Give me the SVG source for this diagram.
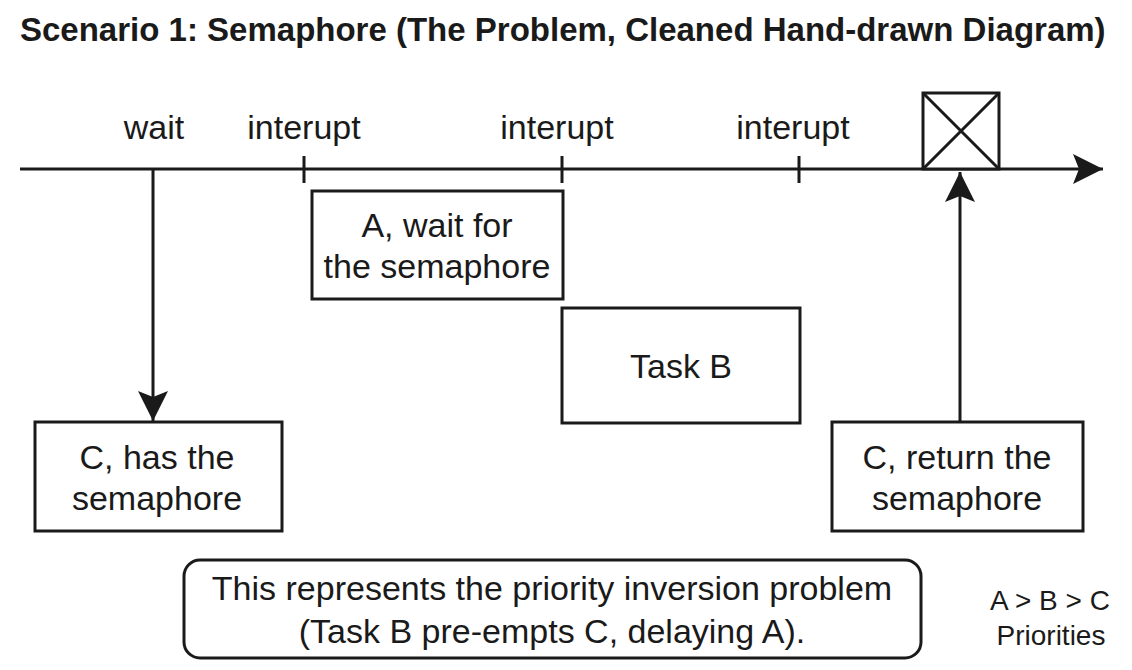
<svg xmlns="http://www.w3.org/2000/svg" width="1132" height="670" viewBox="0 0 1132 670">
<style>
text{font-family:"Liberation Sans",Arial,sans-serif;fill:#1a1a1a;text-anchor:middle}
.t{font-size:34px}
.s{font-size:28px}
.title{font-size:33px;font-weight:bold;text-anchor:start}
.box{fill:#fff;stroke:#1a1a1a;stroke-width:3}
.ln{stroke:#1a1a1a;stroke-width:3;fill:none}
</style>
<defs>
<marker id="ah" markerUnits="userSpaceOnUse" markerWidth="34" markerHeight="34" viewBox="-32 -16 34 32" refX="0" refY="0" orient="auto">
<path d="M0,0 L-30,-15 L-24,0 L-30,15 Z" fill="#1a1a1a"/>
</marker>
</defs>
<rect width="1132" height="670" fill="#fff"/>
<text class="title" x="20" y="41">Scenario 1: Semaphore (The Problem, Cleaned Hand-drawn Diagram)</text>
<g id="timeline">
<line class="ln" x1="20" y1="169" x2="1103" y2="169" marker-end="url(#ah)"/>
<line class="ln" x1="304" y1="156" x2="304" y2="183"/>
<line class="ln" x1="562" y1="156" x2="562" y2="183"/>
<line class="ln" x1="799" y1="156" x2="799" y2="183"/>
<text class="t" x="154" y="139">wait</text>
<text class="t" x="304" y="139">interupt</text>
<text class="t" x="557" y="139">interupt</text>
<text class="t" x="793" y="139">interupt</text>
</g>
<g id="release-mark">
<rect class="box" x="923" y="93" width="76" height="76" fill="none"/>
<line class="ln" x1="923" y1="93" x2="999" y2="169"/>
<line class="ln" x1="999" y1="93" x2="923" y2="169"/>
</g>
<g id="connectors">
<line class="ln" x1="153" y1="169" x2="153" y2="421" marker-end="url(#ah)"/>
<line class="ln" x1="960" y1="422" x2="960" y2="172" marker-end="url(#ah)"/>
</g>
<g id="node-a">
<rect class="box" x="312" y="191" width="251" height="108"/>
<text class="t" x="437" y="237">A, wait for</text>
<text class="t" x="437" y="278">the semaphore</text>
</g>
<g id="node-b">
<rect class="box" x="562" y="308" width="238" height="115"/>
<text class="t" x="681" y="378">Task B</text>
</g>
<g id="node-c-has">
<rect class="box" x="35" y="422" width="247" height="109"/>
<text class="t" x="157" y="469">C, has the</text>
<text class="t" x="157" y="510">semaphore</text>
</g>
<g id="node-c-return">
<rect class="box" x="832" y="422" width="251" height="109"/>
<text class="t" x="957" y="469">C, return the</text>
<text class="t" x="957" y="510">semaphore</text>
</g>
<g id="note">
<rect class="box" x="184" y="560" width="737" height="98" rx="16"/>
<text class="t" x="552" y="600">This represents the priority inversion problem</text>
<text class="t" x="552" y="643">(Task B pre-empts C, delaying A).</text>
</g>
<g id="priorities">
<text class="s" x="1050" y="610">A &gt; B &gt; C</text>
<text class="s" x="1051" y="645">Priorities</text>
</g>
</svg>
